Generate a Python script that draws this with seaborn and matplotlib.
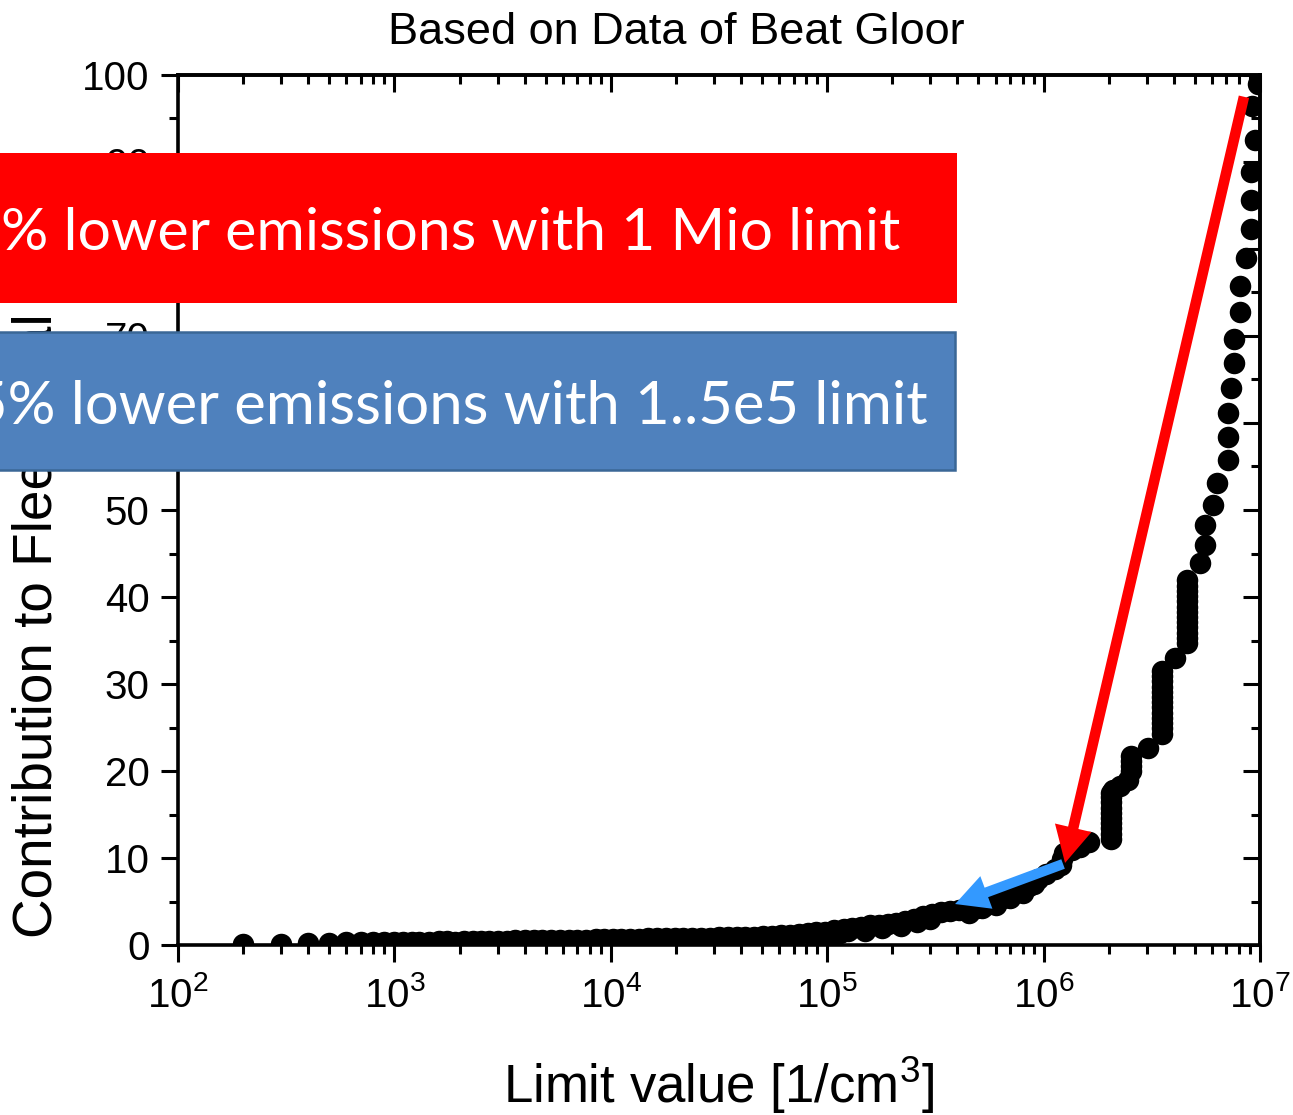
import numpy as np
import pandas as pd
import matplotlib
matplotlib.use("Agg")
import matplotlib.pyplot as plt
from matplotlib.patches import Rectangle, ArrowStyle
from matplotlib.ticker import LogLocator, NullFormatter, MultipleLocator, LogFormatterSciNotation
import seaborn as sns

# ---------------- data ----------------
limit_low = [200, 300, 400, 500, 600, 700, 800, 900, 1000, 1100, 1200, 1300, 1450, 1600,
             1750, 1900, 2100, 2300, 2500, 2750, 3000, 3300, 3600, 4000, 4400, 4800, 5300,
             5800, 6400, 7000, 7700, 8500, 9300, 10200, 11200, 12300, 13500, 14800, 16300,
             17900, 19700, 21600, 23800, 26100, 28700, 31500, 34700, 38100, 41900, 46000,
             50600, 55600, 61100, 67100, 73800, 81100, 89100, 98000]
contrib_low = [0.15, 0.15, 0.2, 0.25, 0.3, 0.3, 0.32, 0.33, 0.35, 0.36, 0.37, 0.38, 0.4, 0.41,
               0.42, 0.38, 0.45, 0.46, 0.47, 0.48, 0.5, 0.51, 0.52, 0.53, 0.54, 0.55, 0.56,
               0.58, 0.6, 0.6, 0.62, 0.64, 0.68, 0.7, 0.72, 0.73, 0.74, 0.76, 0.78,
               0.8, 0.82, 0.84, 0.86, 0.85, 0.82, 0.88, 0.9, 0.88, 0.92, 0.95,
               1.0, 1.05, 1.1, 1.2, 1.3, 1.35, 1.45, 1.55]

limit_mid = [90000, 105000, 115000, 125000, 108000, 119000, 130000, 143000, 157000, 173000,
             190000, 209000, 230000, 253000, 278000, 306000, 336000, 370000, 407000, 448000,
             493000, 540000, 590000, 650000, 710000, 780000, 860000, 940000, 1030000, 1130000,
             1200000, 1220000, 1240000, 1350000, 1480000, 1620000,
             150000, 180000, 220000, 260000, 300000, 450000, 520000, 600000, 700000, 800000, 900000]
contrib_mid = [0.9, 1.2, 1.4, 1.6, 1.7, 1.85, 2.0, 2.1, 2.25, 2.35,
               2.45, 2.55, 2.75, 3.0, 3.3, 3.6, 3.8, 3.9, 4.0, 4.1,
               4.3, 4.6, 5.0, 5.4, 5.9, 6.3, 6.8, 7.6, 8.2, 8.7,
               9.2, 9.9, 10.6, 10.9, 11.3, 11.8,
               1.6, 1.9, 2.2, 2.6, 3.0, 3.7, 4.2, 4.6, 5.4, 6.0, 7.0]

limit_high = [2050000] * 10 + [2100000, 2250000, 2450000] + [2530000] * 4 + [3030000] + \
             [3520000] * 13 + [4050000] + [4600000] * 13 + [5280000]
contrib_high = [12.2, 12.8, 13.4, 14.0, 14.6, 15.2, 15.8, 16.4, 17.0, 17.5,
                17.8, 18.3, 19.0,
                20.0, 20.6, 21.2, 21.7,
                22.6,
                24.3, 24.9, 25.5, 26.1, 26.7, 27.3, 27.9, 28.5, 29.1, 29.7, 30.3, 30.9, 31.5,
                33.0,
                34.7, 35.3, 35.9, 36.5, 37.1, 37.7, 38.3, 38.9, 39.5, 40.1, 40.7, 41.3, 42.0,
                43.9]

limit_top = [5570000, 5570000, 6070000, 6310000, 7120000, 7120000, 7120000, 7330000, 7590000,
             7590000, 8080000, 8080000, 8610000, 9080000, 9060000, 9060000, 9490000, 9160000, 9800000]
contrib_top = [46.0, 48.3, 50.6, 53.1, 55.7, 58.4, 61.1, 64.0, 66.9,
               69.7, 72.8, 75.7, 79.0, 82.3, 85.6, 88.9, 92.5, 96.4, 99.0]

x_ticks = [1e2, 1e3, 1e4, 1e5, 1e6, 1e7]
y_ticks = [0, 10, 20, 30, 40, 50, 60, 70, 80, 90, 100]

red_arrow_from = (8.43e6, 97.5)
red_arrow_to = (1.256e6, 9.43)
blue_arrow_from = (1.23e6, 9.31)
blue_arrow_to = (3.9e5, 4.71)

title_text = "Based on Data of Beat Gloor"
xlabel_text = "Limit value [1/cm$^{3}$]"
ylabel_text = "Contribution to Fleet Total [%]"
red_box_text = "% lower emissions with 1 Mio limit"
blue_box_text = "5% lower emissions with 1..5e5 limit"

df = pd.DataFrame({
    "limit": limit_low + limit_mid + limit_high + limit_top,
    "contrib": contrib_low + contrib_mid + contrib_high + contrib_top,
})

# ---------------- style ----------------
sns.set_style("ticks")
plt.rcParams["font.family"] = ["Liberation Sans", "DejaVu Sans"]
plt.rcParams["mathtext.fontset"] = "custom"
plt.rcParams["mathtext.rm"] = "Liberation Sans"
plt.rcParams["mathtext.it"] = "Liberation Sans:italic"
plt.rcParams["mathtext.bf"] = "Liberation Sans:bold"
for key in ["text.color", "axes.labelcolor", "xtick.color", "ytick.color",
            "xtick.labelcolor", "ytick.labelcolor", "axes.edgecolor"]:
    plt.rcParams[key] = "black"

W, H = 1293, 1115
fig = plt.figure(figsize=(W / 100, H / 100), dpi=100)
L, R, T, B = 178, 1260, 75, 945
ax = fig.add_axes([L / W, 1 - B / H, (R - L) / W, (B - T) / H])

sns.scatterplot(data=df, x="limit", y="contrib", ax=ax, color="black",
                s=240, linewidth=0, marker="o", legend=False, zorder=3)

ax.set_xscale("log")
ax.set_xlim(x_ticks[0], x_ticks[-1])
ax.set_ylim(y_ticks[0], y_ticks[-1])
ax.set_xticks(x_ticks)
ax.xaxis.set_major_formatter(LogFormatterSciNotation())
ax.xaxis.set_minor_locator(LogLocator(base=10, subs=np.arange(2, 10)))
ax.xaxis.set_minor_formatter(NullFormatter())
ax.set_yticks(y_ticks)
ax.yaxis.set_minor_locator(MultipleLocator(5))
ax.set_xlabel("")
ax.set_ylabel("")

for sp in ax.spines.values():
    sp.set_linewidth(2.6)
    sp.set_color("black")
    sp.set_visible(True)

ax.tick_params(axis="both", which="major", direction="out", length=12.5, width=2.2,
               labelsize=29, colors="black")
ax.tick_params(axis="both", which="minor", direction="out", length=6.5, width=2.2)
ax.tick_params(axis="x", which="major", pad=10)
ax.tick_params(axis="y", which="major", pad=8)

# mirrored inward ticks on top and right
secx = ax.secondary_xaxis("top")
secx.set_xticks(x_ticks)
secx.xaxis.set_minor_locator(LogLocator(base=10, subs=np.arange(2, 10)))
secx.xaxis.set_major_formatter(NullFormatter())
secx.xaxis.set_minor_formatter(NullFormatter())
secx.tick_params(which="major", direction="in", length=12.5, width=2.2, colors="black")
secx.tick_params(which="minor", direction="in", length=6.5, width=2.2, colors="black")
secx.spines["top"].set_linewidth(2.6)

secy = ax.secondary_yaxis("right")
secy.set_yticks(y_ticks)
secy.yaxis.set_minor_locator(MultipleLocator(5))
secy.yaxis.set_major_formatter(NullFormatter())
secy.tick_params(which="major", direction="in", length=12.5, width=2.2, colors="black")
secy.tick_params(which="minor", direction="in", length=6.5, width=2.2, colors="black")
secy.spines["right"].set_linewidth(2.6)

# arrows
ax.annotate("", xy=red_arrow_to, xytext=red_arrow_from,
            arrowprops=dict(arrowstyle=ArrowStyle("simple", head_length=26, head_width=27, tail_width=7.6),
                            mutation_scale=1, shrinkA=0, shrinkB=0, fc="#FF0000", ec="none"),
            annotation_clip=False, zorder=5)
ax.annotate("", xy=blue_arrow_to, xytext=blue_arrow_from,
            arrowprops=dict(arrowstyle=ArrowStyle("simple", head_length=24, head_width=25, tail_width=7.3),
                            mutation_scale=1, shrinkA=0, shrinkB=0, fc="#3399FF", ec="none"),
            annotation_clip=False, zorder=5)

# texts
fig.text(676 / W, 1 - 44 / H, title_text, ha="center", va="baseline", fontsize=32.5, color="black")
fig.text((L + R) / 2 / W, 1 - 1103 / H, xlabel_text, ha="center", va="baseline", fontsize=38,
         color="black")
fig.text(38 / W, 1 - 938 / H, ylabel_text, ha="center", va="bottom", rotation=90,
         fontsize=39.5, zorder=0.5, color="black")

# overlay boxes
fig.add_artist(Rectangle((0, 1 - 303 / H), 957 / W, 150 / H, transform=fig.transFigure,
                         facecolor="#FF0000", edgecolor="none", zorder=1))
fig.add_artist(Rectangle((-0.01, 1 - 470 / H), 0.01 + 955 / W, 138 / H, transform=fig.transFigure,
                         facecolor="#4F81BD", edgecolor="#3A6796", linewidth=1.8, zorder=1))
box_font = ["Lato", "DejaVu Sans"]
fig.text(900 / W, 1 - 250 / H, red_box_text, ha="right", va="baseline", color="white",
         fontsize=42.5, family=box_font, zorder=4)
fig.text(928 / W, 1 - 424 / H, blue_box_text, ha="right", va="baseline", color="white",
         fontsize=43, family=box_font, zorder=4)

fig.savefig("out.png", dpi=100)
